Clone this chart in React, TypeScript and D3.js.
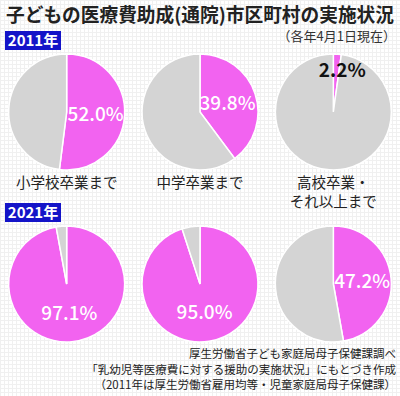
import React from 'react';
import { pie, arc, scaleBand } from 'd3';

const years = ['2011年', '2021年'];
const categories = ['小学校卒業まで', '中学卒業まで', '高校卒業・\nそれ以上まで'];
const rates2011 = [52.0, 39.8, 2.2];
const rates2021 = [97.1, 95.0, 47.2];
const title = '子どもの医療費助成(通院)市区町村の実施状況';
const subtitle = '（各年4月1日現在）';
const notes = [
  '厚生労働省子ども家庭局母子保健課調べ',
  '「乳幼児等医療費に対する援助の実施状況」にもとづき作成',
  '（2011年は厚生労働省雇用均等・児童家庭局母子保健課）',
];

const W = 400;
const H = 396;
const PINK = '#f263f0';
const GRAY = '#d4d4d4';
const JP = '"Noto Sans CJK JP", "Noto Sans", sans-serif';

const R = 58;
const x = scaleBand<number>().domain([0, 1, 2]).range([0, W]).paddingInner(0).paddingOuter(0);
const rowY = [112, 284];

const pieGen = pie<number>().sort(null).value(d => d);
const arcGen = arc<any>().innerRadius(0).outerRadius(R);

function Pie({ value, cx, cy }: { value: number; cx: number; cy: number }) {
  const slices = pieGen([value, 100 - value]);
  const small = value < 10;
  const mid = (slices[0].startAngle + slices[0].endAngle) / 2;
  const lr = small ? R * 0.73 : R * 0.5;
  const lx = Math.sin(mid) * lr + (small ? 6 : 0);
  const ly = -Math.cos(mid) * lr;
  return (
    <g transform={`translate(${cx},${cy})`}>
      {slices.map((s, i) => (
        <path key={i} d={arcGen(s) || ''} fill={i === 0 ? PINK : GRAY} stroke="#fff" strokeWidth={1.5} />
      ))}
      <text x={lx} y={ly} dy="0.36em" textAnchor="middle" fontFamily={JP} fontWeight={small ? 700 : 500}
        fontSize={19} fill={small ? '#111' : '#fff'}>
        {value.toFixed(1)}%
      </text>
    </g>
  );
}

export default function App() {
  const cx = (i: number) => (x(i) || 0) + x.bandwidth() / 2;
  return (
    <svg width={W} height={H} style={{ position: 'absolute', left: 0, top: 0 }}>
      <defs>
        <pattern id="grid" width="4" height="4" patternUnits="userSpaceOnUse">
          <rect width="4" height="4" fill="#fff" />
          <path d="M0,0.5H4M0.5,0V4" stroke="#f0f0f0" strokeWidth={1} />
        </pattern>
      </defs>
      <rect width={W} height={H} fill="url(#grid)" />
      <text x={6} y={22} fontFamily={JP} fontWeight={700} fontSize={18.8} fill="#222" textLength={388}
        lengthAdjust="spacingAndGlyphs">{title}</text>
      <text x={396} y={41} textAnchor="end" fontFamily={JP} fontSize={13} fill="#333">{subtitle}</text>

      {years.map((yr, r) => {
        const top = r === 0 ? 31 : 203;
        return (
          <g key={yr}>
            <rect x={5} y={top} width={56} height={19} fill="#1414c8" />
            <text x={33} y={top + 15} textAnchor="middle" fontFamily={JP} fontWeight={700} fontSize={15} fill="#fff">{yr}</text>
          </g>
        );
      })}

      {rates2011.map((v, i) => <Pie key={'a' + i} value={v} cx={cx(i)} cy={rowY[0]} />)}
      {rates2021.map((v, i) => <Pie key={'b' + i} value={v} cx={cx(i)} cy={rowY[1]} />)}

      {categories.map((c, i) => (
        <text key={c} x={cx(i)} y={188} textAnchor="middle" fontFamily={JP} fontSize={14.5} fill="#222">
          {c.split('\n').map((t, j) => (
            <tspan key={j} x={cx(i)} dy={j === 0 ? 0 : 19}>{t}</tspan>
          ))}
        </text>
      ))}

      {notes.map((n, i) => (
        <text key={i} x={396} y={358 + i * 15.5} textAnchor="end" fontFamily={JP} fontSize={11.5} fill="#222">{n}</text>
      ))}
    </svg>
  );
}
